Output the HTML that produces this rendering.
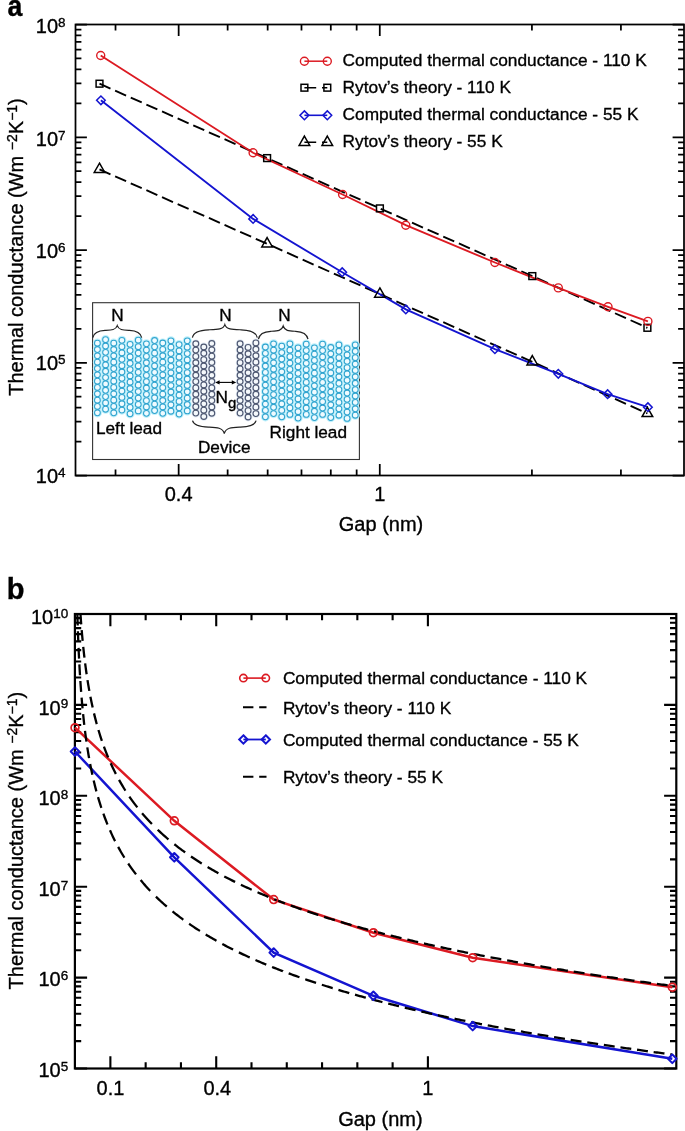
<!DOCTYPE html><html><head><meta charset="utf-8"><style>html,body{margin:0;padding:0;background:#fff;width:685px;height:1131px;overflow:hidden}svg{display:block;font-family:"Liberation Sans",sans-serif;will-change:transform}text{stroke:#000;stroke-width:0.35px}</style></head><body><svg width="685" height="1131" viewBox="0 0 685 1131" font-family="Liberation Sans, sans-serif" fill="#000"><rect x="75.5" y="24.5" width="608.5" height="451" fill="none" stroke="#000" stroke-width="1.75"/>
<path d="M75.5 475.5h11.4M684 475.5h-11.4M75.5 441.56h5.9M684 441.56h-5.9M75.5 421.7h5.9M684 421.7h-5.9M75.5 407.62h5.9M684 407.62h-5.9M75.5 396.69h5.9M684 396.69h-5.9M75.5 387.76h5.9M684 387.76h-5.9M75.5 380.22h5.9M684 380.22h-5.9M75.5 373.68h5.9M684 373.68h-5.9M75.5 367.91h5.9M684 367.91h-5.9M75.5 362.75h11.4M684 362.75h-11.4M75.5 328.81h5.9M684 328.81h-5.9M75.5 308.95h5.9M684 308.95h-5.9M75.5 294.87h5.9M684 294.87h-5.9M75.5 283.94h5.9M684 283.94h-5.9M75.5 275.01h5.9M684 275.01h-5.9M75.5 267.47h5.9M684 267.47h-5.9M75.5 260.93h5.9M684 260.93h-5.9M75.5 255.16h5.9M684 255.16h-5.9M75.5 250h11.4M684 250h-11.4M75.5 216.06h5.9M684 216.06h-5.9M75.5 196.2h5.9M684 196.2h-5.9M75.5 182.12h5.9M684 182.12h-5.9M75.5 171.19h5.9M684 171.19h-5.9M75.5 162.26h5.9M684 162.26h-5.9M75.5 154.72h5.9M684 154.72h-5.9M75.5 148.18h5.9M684 148.18h-5.9M75.5 142.41h5.9M684 142.41h-5.9M75.5 137.25h11.4M684 137.25h-11.4M75.5 103.31h5.9M684 103.31h-5.9M75.5 83.45h5.9M684 83.45h-5.9M75.5 69.37h5.9M684 69.37h-5.9M75.5 58.44h5.9M684 58.44h-5.9M75.5 49.51h5.9M684 49.51h-5.9M75.5 41.97h5.9M684 41.97h-5.9M75.5 35.43h5.9M684 35.43h-5.9M75.5 29.66h5.9M684 29.66h-5.9M75.5 24.5h11.4M684 24.5h-11.4" stroke="#000" stroke-width="1.75" fill="none"/>
<path d="M178.66 24.5v11.4M178.66 475.5v-11.4M379.78 24.5v11.4M379.78 475.5v-11.4M115.52 24.5v5.9M115.52 475.5v-5.9M227.64 24.5v5.9M227.64 475.5v-5.9M267.66 24.5v5.9M267.66 475.5v-5.9M301.49 24.5v5.9M301.49 475.5v-5.9M330.8 24.5v5.9M330.8 475.5v-5.9M356.66 24.5v5.9M356.66 475.5v-5.9M531.92 24.5v5.9M531.92 475.5v-5.9M620.92 24.5v5.9M620.92 475.5v-5.9" stroke="#000" stroke-width="1.75" fill="none"/>
<text x="65.6" y="482.6" font-size="20" text-anchor="end">10<tspan font-size="13.5" dy="-6.1">4</tspan></text>
<text x="65.6" y="370.2" font-size="20" text-anchor="end">10<tspan font-size="13.5" dy="-6.1">5</tspan></text>
<text x="65.6" y="258" font-size="20" text-anchor="end">10<tspan font-size="13.5" dy="-6.1">6</tspan></text>
<text x="65.6" y="145.8" font-size="20" text-anchor="end">10<tspan font-size="13.5" dy="-6.1">7</tspan></text>
<text x="65.6" y="33.2" font-size="20" text-anchor="end">10<tspan font-size="13.5" dy="-6.1">8</tspan></text>
<text x="178.66" y="501" font-size="20" text-anchor="middle">0.4</text>
<text x="379.78" y="501" font-size="20" text-anchor="middle">1</text>
<text x="381" y="530.8" font-size="20" text-anchor="middle">Gap (nm)</text>
<text transform="translate(22.8 247) rotate(-90)" x="0" y="0" font-size="20" text-anchor="middle">Thermal conductance (Wm <tspan font-size="14" dy="-5.8">−2</tspan><tspan dy="5.8">K</tspan><tspan font-size="14" dy="-5.8">−1</tspan><tspan dy="5.8">)</tspan></text>
<text transform="translate(7.4 15.8) scale(0.89 1)" font-size="30" font-weight="bold">a</text>
<rect x="92.6" y="302.7" width="266.8" height="156.8" fill="#fff" stroke="#333" stroke-width="1.1"/>
<g fill="none" stroke="#bff0fb" stroke-width="3.4"><circle cx="97.4" cy="343.2" r="2.9"/><circle cx="97.4" cy="349.53" r="2.9"/><circle cx="97.4" cy="355.85" r="2.9"/><circle cx="97.4" cy="362.18" r="2.9"/><circle cx="97.4" cy="368.51" r="2.9"/><circle cx="97.4" cy="374.84" r="2.9"/><circle cx="97.4" cy="381.16" r="2.9"/><circle cx="97.4" cy="387.49" r="2.9"/><circle cx="97.4" cy="393.82" r="2.9"/><circle cx="97.4" cy="400.15" r="2.9"/><circle cx="97.4" cy="406.47" r="2.9"/><circle cx="97.4" cy="412.8" r="2.9"/><circle cx="105.57" cy="339.7" r="2.9"/><circle cx="105.57" cy="346.02" r="2.9"/><circle cx="105.57" cy="352.34" r="2.9"/><circle cx="105.57" cy="358.65" r="2.9"/><circle cx="105.57" cy="364.97" r="2.9"/><circle cx="105.57" cy="371.29" r="2.9"/><circle cx="105.57" cy="377.61" r="2.9"/><circle cx="105.57" cy="383.93" r="2.9"/><circle cx="105.57" cy="390.25" r="2.9"/><circle cx="105.57" cy="396.56" r="2.9"/><circle cx="105.57" cy="402.88" r="2.9"/><circle cx="105.57" cy="409.2" r="2.9"/><circle cx="113.74" cy="343.2" r="2.9"/><circle cx="113.74" cy="349.53" r="2.9"/><circle cx="113.74" cy="355.85" r="2.9"/><circle cx="113.74" cy="362.18" r="2.9"/><circle cx="113.74" cy="368.51" r="2.9"/><circle cx="113.74" cy="374.84" r="2.9"/><circle cx="113.74" cy="381.16" r="2.9"/><circle cx="113.74" cy="387.49" r="2.9"/><circle cx="113.74" cy="393.82" r="2.9"/><circle cx="113.74" cy="400.15" r="2.9"/><circle cx="113.74" cy="406.47" r="2.9"/><circle cx="113.74" cy="412.8" r="2.9"/><circle cx="121.91" cy="340.3" r="2.9"/><circle cx="121.91" cy="346.65" r="2.9"/><circle cx="121.91" cy="352.99" r="2.9"/><circle cx="121.91" cy="359.34" r="2.9"/><circle cx="121.91" cy="365.68" r="2.9"/><circle cx="121.91" cy="372.03" r="2.9"/><circle cx="121.91" cy="378.37" r="2.9"/><circle cx="121.91" cy="384.72" r="2.9"/><circle cx="121.91" cy="391.06" r="2.9"/><circle cx="121.91" cy="397.41" r="2.9"/><circle cx="121.91" cy="403.75" r="2.9"/><circle cx="121.91" cy="410.1" r="2.9"/><circle cx="130.08" cy="344.3" r="2.9"/><circle cx="130.08" cy="350.62" r="2.9"/><circle cx="130.08" cy="356.94" r="2.9"/><circle cx="130.08" cy="363.25" r="2.9"/><circle cx="130.08" cy="369.57" r="2.9"/><circle cx="130.08" cy="375.89" r="2.9"/><circle cx="130.08" cy="382.21" r="2.9"/><circle cx="130.08" cy="388.53" r="2.9"/><circle cx="130.08" cy="394.85" r="2.9"/><circle cx="130.08" cy="401.16" r="2.9"/><circle cx="130.08" cy="407.48" r="2.9"/><circle cx="130.08" cy="413.8" r="2.9"/><circle cx="138.25" cy="340.2" r="2.9"/><circle cx="138.25" cy="346.63" r="2.9"/><circle cx="138.25" cy="353.05" r="2.9"/><circle cx="138.25" cy="359.48" r="2.9"/><circle cx="138.25" cy="365.91" r="2.9"/><circle cx="138.25" cy="372.34" r="2.9"/><circle cx="138.25" cy="378.76" r="2.9"/><circle cx="138.25" cy="385.19" r="2.9"/><circle cx="138.25" cy="391.62" r="2.9"/><circle cx="138.25" cy="398.05" r="2.9"/><circle cx="138.25" cy="404.47" r="2.9"/><circle cx="138.25" cy="410.9" r="2.9"/><circle cx="146.42" cy="343.8" r="2.9"/><circle cx="146.42" cy="350.12" r="2.9"/><circle cx="146.42" cy="356.44" r="2.9"/><circle cx="146.42" cy="362.75" r="2.9"/><circle cx="146.42" cy="369.07" r="2.9"/><circle cx="146.42" cy="375.39" r="2.9"/><circle cx="146.42" cy="381.71" r="2.9"/><circle cx="146.42" cy="388.03" r="2.9"/><circle cx="146.42" cy="394.35" r="2.9"/><circle cx="146.42" cy="400.66" r="2.9"/><circle cx="146.42" cy="406.98" r="2.9"/><circle cx="146.42" cy="413.3" r="2.9"/><circle cx="154.59" cy="340.5" r="2.9"/><circle cx="154.59" cy="346.86" r="2.9"/><circle cx="154.59" cy="353.23" r="2.9"/><circle cx="154.59" cy="359.59" r="2.9"/><circle cx="154.59" cy="365.95" r="2.9"/><circle cx="154.59" cy="372.32" r="2.9"/><circle cx="154.59" cy="378.68" r="2.9"/><circle cx="154.59" cy="385.05" r="2.9"/><circle cx="154.59" cy="391.41" r="2.9"/><circle cx="154.59" cy="397.77" r="2.9"/><circle cx="154.59" cy="404.14" r="2.9"/><circle cx="154.59" cy="410.5" r="2.9"/><circle cx="162.76" cy="343" r="2.9"/><circle cx="162.76" cy="349.39" r="2.9"/><circle cx="162.76" cy="355.78" r="2.9"/><circle cx="162.76" cy="362.17" r="2.9"/><circle cx="162.76" cy="368.56" r="2.9"/><circle cx="162.76" cy="374.95" r="2.9"/><circle cx="162.76" cy="381.35" r="2.9"/><circle cx="162.76" cy="387.74" r="2.9"/><circle cx="162.76" cy="394.13" r="2.9"/><circle cx="162.76" cy="400.52" r="2.9"/><circle cx="162.76" cy="406.91" r="2.9"/><circle cx="162.76" cy="413.3" r="2.9"/><circle cx="170.93" cy="340.8" r="2.9"/><circle cx="170.93" cy="347.2" r="2.9"/><circle cx="170.93" cy="353.6" r="2.9"/><circle cx="170.93" cy="360" r="2.9"/><circle cx="170.93" cy="366.4" r="2.9"/><circle cx="170.93" cy="372.8" r="2.9"/><circle cx="170.93" cy="379.2" r="2.9"/><circle cx="170.93" cy="385.6" r="2.9"/><circle cx="170.93" cy="392" r="2.9"/><circle cx="170.93" cy="398.4" r="2.9"/><circle cx="170.93" cy="404.8" r="2.9"/><circle cx="170.93" cy="411.2" r="2.9"/><circle cx="179.1" cy="344.6" r="2.9"/><circle cx="179.1" cy="350.92" r="2.9"/><circle cx="179.1" cy="357.24" r="2.9"/><circle cx="179.1" cy="363.55" r="2.9"/><circle cx="179.1" cy="369.87" r="2.9"/><circle cx="179.1" cy="376.19" r="2.9"/><circle cx="179.1" cy="382.51" r="2.9"/><circle cx="179.1" cy="388.83" r="2.9"/><circle cx="179.1" cy="395.15" r="2.9"/><circle cx="179.1" cy="401.46" r="2.9"/><circle cx="179.1" cy="407.78" r="2.9"/><circle cx="179.1" cy="414.1" r="2.9"/><circle cx="187.27" cy="340.8" r="2.9"/><circle cx="187.27" cy="347.17" r="2.9"/><circle cx="187.27" cy="353.55" r="2.9"/><circle cx="187.27" cy="359.92" r="2.9"/><circle cx="187.27" cy="366.29" r="2.9"/><circle cx="187.27" cy="372.66" r="2.9"/><circle cx="187.27" cy="379.04" r="2.9"/><circle cx="187.27" cy="385.41" r="2.9"/><circle cx="187.27" cy="391.78" r="2.9"/><circle cx="187.27" cy="398.15" r="2.9"/><circle cx="187.27" cy="404.53" r="2.9"/><circle cx="187.27" cy="410.9" r="2.9"/><circle cx="265.4" cy="347" r="2.9"/><circle cx="265.4" cy="353.35" r="2.9"/><circle cx="265.4" cy="359.69" r="2.9"/><circle cx="265.4" cy="366.04" r="2.9"/><circle cx="265.4" cy="372.38" r="2.9"/><circle cx="265.4" cy="378.73" r="2.9"/><circle cx="265.4" cy="385.07" r="2.9"/><circle cx="265.4" cy="391.42" r="2.9"/><circle cx="265.4" cy="397.76" r="2.9"/><circle cx="265.4" cy="404.11" r="2.9"/><circle cx="265.4" cy="410.45" r="2.9"/><circle cx="265.4" cy="416.8" r="2.9"/><circle cx="273.57" cy="343.8" r="2.9"/><circle cx="273.57" cy="350.15" r="2.9"/><circle cx="273.57" cy="356.49" r="2.9"/><circle cx="273.57" cy="362.84" r="2.9"/><circle cx="273.57" cy="369.18" r="2.9"/><circle cx="273.57" cy="375.53" r="2.9"/><circle cx="273.57" cy="381.87" r="2.9"/><circle cx="273.57" cy="388.22" r="2.9"/><circle cx="273.57" cy="394.56" r="2.9"/><circle cx="273.57" cy="400.91" r="2.9"/><circle cx="273.57" cy="407.25" r="2.9"/><circle cx="273.57" cy="413.6" r="2.9"/><circle cx="281.74" cy="346.2" r="2.9"/><circle cx="281.74" cy="352.62" r="2.9"/><circle cx="281.74" cy="359.04" r="2.9"/><circle cx="281.74" cy="365.45" r="2.9"/><circle cx="281.74" cy="371.87" r="2.9"/><circle cx="281.74" cy="378.29" r="2.9"/><circle cx="281.74" cy="384.71" r="2.9"/><circle cx="281.74" cy="391.13" r="2.9"/><circle cx="281.74" cy="397.55" r="2.9"/><circle cx="281.74" cy="403.96" r="2.9"/><circle cx="281.74" cy="410.38" r="2.9"/><circle cx="281.74" cy="416.8" r="2.9"/><circle cx="289.91" cy="343.8" r="2.9"/><circle cx="289.91" cy="350.22" r="2.9"/><circle cx="289.91" cy="356.64" r="2.9"/><circle cx="289.91" cy="363.05" r="2.9"/><circle cx="289.91" cy="369.47" r="2.9"/><circle cx="289.91" cy="375.89" r="2.9"/><circle cx="289.91" cy="382.31" r="2.9"/><circle cx="289.91" cy="388.73" r="2.9"/><circle cx="289.91" cy="395.15" r="2.9"/><circle cx="289.91" cy="401.56" r="2.9"/><circle cx="289.91" cy="407.98" r="2.9"/><circle cx="289.91" cy="414.4" r="2.9"/><circle cx="298.08" cy="347.8" r="2.9"/><circle cx="298.08" cy="354.19" r="2.9"/><circle cx="298.08" cy="360.58" r="2.9"/><circle cx="298.08" cy="366.97" r="2.9"/><circle cx="298.08" cy="373.36" r="2.9"/><circle cx="298.08" cy="379.75" r="2.9"/><circle cx="298.08" cy="386.15" r="2.9"/><circle cx="298.08" cy="392.54" r="2.9"/><circle cx="298.08" cy="398.93" r="2.9"/><circle cx="298.08" cy="405.32" r="2.9"/><circle cx="298.08" cy="411.71" r="2.9"/><circle cx="298.08" cy="418.1" r="2.9"/><circle cx="306.25" cy="344.2" r="2.9"/><circle cx="306.25" cy="350.58" r="2.9"/><circle cx="306.25" cy="356.96" r="2.9"/><circle cx="306.25" cy="363.35" r="2.9"/><circle cx="306.25" cy="369.73" r="2.9"/><circle cx="306.25" cy="376.11" r="2.9"/><circle cx="306.25" cy="382.49" r="2.9"/><circle cx="306.25" cy="388.87" r="2.9"/><circle cx="306.25" cy="395.25" r="2.9"/><circle cx="306.25" cy="401.64" r="2.9"/><circle cx="306.25" cy="408.02" r="2.9"/><circle cx="306.25" cy="414.4" r="2.9"/><circle cx="314.42" cy="347.8" r="2.9"/><circle cx="314.42" cy="354.15" r="2.9"/><circle cx="314.42" cy="360.49" r="2.9"/><circle cx="314.42" cy="366.84" r="2.9"/><circle cx="314.42" cy="373.18" r="2.9"/><circle cx="314.42" cy="379.53" r="2.9"/><circle cx="314.42" cy="385.87" r="2.9"/><circle cx="314.42" cy="392.22" r="2.9"/><circle cx="314.42" cy="398.56" r="2.9"/><circle cx="314.42" cy="404.91" r="2.9"/><circle cx="314.42" cy="411.25" r="2.9"/><circle cx="314.42" cy="417.6" r="2.9"/><circle cx="322.59" cy="344.2" r="2.9"/><circle cx="322.59" cy="350.58" r="2.9"/><circle cx="322.59" cy="356.96" r="2.9"/><circle cx="322.59" cy="363.35" r="2.9"/><circle cx="322.59" cy="369.73" r="2.9"/><circle cx="322.59" cy="376.11" r="2.9"/><circle cx="322.59" cy="382.49" r="2.9"/><circle cx="322.59" cy="388.87" r="2.9"/><circle cx="322.59" cy="395.25" r="2.9"/><circle cx="322.59" cy="401.64" r="2.9"/><circle cx="322.59" cy="408.02" r="2.9"/><circle cx="322.59" cy="414.4" r="2.9"/><circle cx="330.76" cy="347.5" r="2.9"/><circle cx="330.76" cy="353.87" r="2.9"/><circle cx="330.76" cy="360.25" r="2.9"/><circle cx="330.76" cy="366.62" r="2.9"/><circle cx="330.76" cy="372.99" r="2.9"/><circle cx="330.76" cy="379.36" r="2.9"/><circle cx="330.76" cy="385.74" r="2.9"/><circle cx="330.76" cy="392.11" r="2.9"/><circle cx="330.76" cy="398.48" r="2.9"/><circle cx="330.76" cy="404.85" r="2.9"/><circle cx="330.76" cy="411.23" r="2.9"/><circle cx="330.76" cy="417.6" r="2.9"/><circle cx="338.93" cy="344.9" r="2.9"/><circle cx="338.93" cy="351.29" r="2.9"/><circle cx="338.93" cy="357.68" r="2.9"/><circle cx="338.93" cy="364.07" r="2.9"/><circle cx="338.93" cy="370.46" r="2.9"/><circle cx="338.93" cy="376.85" r="2.9"/><circle cx="338.93" cy="383.25" r="2.9"/><circle cx="338.93" cy="389.64" r="2.9"/><circle cx="338.93" cy="396.03" r="2.9"/><circle cx="338.93" cy="402.42" r="2.9"/><circle cx="338.93" cy="408.81" r="2.9"/><circle cx="338.93" cy="415.2" r="2.9"/><circle cx="347.1" cy="348.6" r="2.9"/><circle cx="347.1" cy="354.95" r="2.9"/><circle cx="347.1" cy="361.29" r="2.9"/><circle cx="347.1" cy="367.64" r="2.9"/><circle cx="347.1" cy="373.98" r="2.9"/><circle cx="347.1" cy="380.33" r="2.9"/><circle cx="347.1" cy="386.67" r="2.9"/><circle cx="347.1" cy="393.02" r="2.9"/><circle cx="347.1" cy="399.36" r="2.9"/><circle cx="347.1" cy="405.71" r="2.9"/><circle cx="347.1" cy="412.05" r="2.9"/><circle cx="347.1" cy="418.4" r="2.9"/><circle cx="355.27" cy="344.9" r="2.9"/><circle cx="355.27" cy="351.29" r="2.9"/><circle cx="355.27" cy="357.68" r="2.9"/><circle cx="355.27" cy="364.07" r="2.9"/><circle cx="355.27" cy="370.46" r="2.9"/><circle cx="355.27" cy="376.85" r="2.9"/><circle cx="355.27" cy="383.25" r="2.9"/><circle cx="355.27" cy="389.64" r="2.9"/><circle cx="355.27" cy="396.03" r="2.9"/><circle cx="355.27" cy="402.42" r="2.9"/><circle cx="355.27" cy="408.81" r="2.9"/><circle cx="355.27" cy="415.2" r="2.9"/></g>
<g fill="none" stroke="#e4ecf6" stroke-width="3.0"><circle cx="195.8" cy="343.8" r="2.9"/><circle cx="195.8" cy="350.1" r="2.9"/><circle cx="195.8" cy="356.4" r="2.9"/><circle cx="195.8" cy="362.7" r="2.9"/><circle cx="195.8" cy="369" r="2.9"/><circle cx="195.8" cy="375.3" r="2.9"/><circle cx="195.8" cy="381.6" r="2.9"/><circle cx="195.8" cy="387.9" r="2.9"/><circle cx="195.8" cy="394.2" r="2.9"/><circle cx="195.8" cy="400.5" r="2.9"/><circle cx="195.8" cy="406.8" r="2.9"/><circle cx="195.8" cy="413.1" r="2.9"/><circle cx="203.8" cy="347" r="2.9"/><circle cx="203.8" cy="353.32" r="2.9"/><circle cx="203.8" cy="359.64" r="2.9"/><circle cx="203.8" cy="365.95" r="2.9"/><circle cx="203.8" cy="372.27" r="2.9"/><circle cx="203.8" cy="378.59" r="2.9"/><circle cx="203.8" cy="384.91" r="2.9"/><circle cx="203.8" cy="391.23" r="2.9"/><circle cx="203.8" cy="397.55" r="2.9"/><circle cx="203.8" cy="403.86" r="2.9"/><circle cx="203.8" cy="410.18" r="2.9"/><circle cx="203.8" cy="416.5" r="2.9"/><circle cx="211.8" cy="343.5" r="2.9"/><circle cx="211.8" cy="349.85" r="2.9"/><circle cx="211.8" cy="356.19" r="2.9"/><circle cx="211.8" cy="362.54" r="2.9"/><circle cx="211.8" cy="368.88" r="2.9"/><circle cx="211.8" cy="375.23" r="2.9"/><circle cx="211.8" cy="381.57" r="2.9"/><circle cx="211.8" cy="387.92" r="2.9"/><circle cx="211.8" cy="394.26" r="2.9"/><circle cx="211.8" cy="400.61" r="2.9"/><circle cx="211.8" cy="406.95" r="2.9"/><circle cx="211.8" cy="413.3" r="2.9"/><circle cx="240.1" cy="343.7" r="2.9"/><circle cx="240.1" cy="350.01" r="2.9"/><circle cx="240.1" cy="356.32" r="2.9"/><circle cx="240.1" cy="362.63" r="2.9"/><circle cx="240.1" cy="368.94" r="2.9"/><circle cx="240.1" cy="375.25" r="2.9"/><circle cx="240.1" cy="381.55" r="2.9"/><circle cx="240.1" cy="387.86" r="2.9"/><circle cx="240.1" cy="394.17" r="2.9"/><circle cx="240.1" cy="400.48" r="2.9"/><circle cx="240.1" cy="406.79" r="2.9"/><circle cx="240.1" cy="413.1" r="2.9"/><circle cx="248.1" cy="347.4" r="2.9"/><circle cx="248.1" cy="353.73" r="2.9"/><circle cx="248.1" cy="360.05" r="2.9"/><circle cx="248.1" cy="366.38" r="2.9"/><circle cx="248.1" cy="372.71" r="2.9"/><circle cx="248.1" cy="379.04" r="2.9"/><circle cx="248.1" cy="385.36" r="2.9"/><circle cx="248.1" cy="391.69" r="2.9"/><circle cx="248.1" cy="398.02" r="2.9"/><circle cx="248.1" cy="404.35" r="2.9"/><circle cx="248.1" cy="410.67" r="2.9"/><circle cx="248.1" cy="417" r="2.9"/><circle cx="255.9" cy="342.9" r="2.9"/><circle cx="255.9" cy="349.33" r="2.9"/><circle cx="255.9" cy="355.75" r="2.9"/><circle cx="255.9" cy="362.18" r="2.9"/><circle cx="255.9" cy="368.61" r="2.9"/><circle cx="255.9" cy="375.04" r="2.9"/><circle cx="255.9" cy="381.46" r="2.9"/><circle cx="255.9" cy="387.89" r="2.9"/><circle cx="255.9" cy="394.32" r="2.9"/><circle cx="255.9" cy="400.75" r="2.9"/><circle cx="255.9" cy="407.17" r="2.9"/><circle cx="255.9" cy="413.6" r="2.9"/></g>
<g fill="#f0fbff" stroke="#30a4cf" stroke-width="1.05"><circle cx="97.4" cy="343.2" r="2.9"/><circle cx="97.4" cy="349.53" r="2.9"/><circle cx="97.4" cy="355.85" r="2.9"/><circle cx="97.4" cy="362.18" r="2.9"/><circle cx="97.4" cy="368.51" r="2.9"/><circle cx="97.4" cy="374.84" r="2.9"/><circle cx="97.4" cy="381.16" r="2.9"/><circle cx="97.4" cy="387.49" r="2.9"/><circle cx="97.4" cy="393.82" r="2.9"/><circle cx="97.4" cy="400.15" r="2.9"/><circle cx="97.4" cy="406.47" r="2.9"/><circle cx="97.4" cy="412.8" r="2.9"/><circle cx="105.57" cy="339.7" r="2.9"/><circle cx="105.57" cy="346.02" r="2.9"/><circle cx="105.57" cy="352.34" r="2.9"/><circle cx="105.57" cy="358.65" r="2.9"/><circle cx="105.57" cy="364.97" r="2.9"/><circle cx="105.57" cy="371.29" r="2.9"/><circle cx="105.57" cy="377.61" r="2.9"/><circle cx="105.57" cy="383.93" r="2.9"/><circle cx="105.57" cy="390.25" r="2.9"/><circle cx="105.57" cy="396.56" r="2.9"/><circle cx="105.57" cy="402.88" r="2.9"/><circle cx="105.57" cy="409.2" r="2.9"/><circle cx="113.74" cy="343.2" r="2.9"/><circle cx="113.74" cy="349.53" r="2.9"/><circle cx="113.74" cy="355.85" r="2.9"/><circle cx="113.74" cy="362.18" r="2.9"/><circle cx="113.74" cy="368.51" r="2.9"/><circle cx="113.74" cy="374.84" r="2.9"/><circle cx="113.74" cy="381.16" r="2.9"/><circle cx="113.74" cy="387.49" r="2.9"/><circle cx="113.74" cy="393.82" r="2.9"/><circle cx="113.74" cy="400.15" r="2.9"/><circle cx="113.74" cy="406.47" r="2.9"/><circle cx="113.74" cy="412.8" r="2.9"/><circle cx="121.91" cy="340.3" r="2.9"/><circle cx="121.91" cy="346.65" r="2.9"/><circle cx="121.91" cy="352.99" r="2.9"/><circle cx="121.91" cy="359.34" r="2.9"/><circle cx="121.91" cy="365.68" r="2.9"/><circle cx="121.91" cy="372.03" r="2.9"/><circle cx="121.91" cy="378.37" r="2.9"/><circle cx="121.91" cy="384.72" r="2.9"/><circle cx="121.91" cy="391.06" r="2.9"/><circle cx="121.91" cy="397.41" r="2.9"/><circle cx="121.91" cy="403.75" r="2.9"/><circle cx="121.91" cy="410.1" r="2.9"/><circle cx="130.08" cy="344.3" r="2.9"/><circle cx="130.08" cy="350.62" r="2.9"/><circle cx="130.08" cy="356.94" r="2.9"/><circle cx="130.08" cy="363.25" r="2.9"/><circle cx="130.08" cy="369.57" r="2.9"/><circle cx="130.08" cy="375.89" r="2.9"/><circle cx="130.08" cy="382.21" r="2.9"/><circle cx="130.08" cy="388.53" r="2.9"/><circle cx="130.08" cy="394.85" r="2.9"/><circle cx="130.08" cy="401.16" r="2.9"/><circle cx="130.08" cy="407.48" r="2.9"/><circle cx="130.08" cy="413.8" r="2.9"/><circle cx="138.25" cy="340.2" r="2.9"/><circle cx="138.25" cy="346.63" r="2.9"/><circle cx="138.25" cy="353.05" r="2.9"/><circle cx="138.25" cy="359.48" r="2.9"/><circle cx="138.25" cy="365.91" r="2.9"/><circle cx="138.25" cy="372.34" r="2.9"/><circle cx="138.25" cy="378.76" r="2.9"/><circle cx="138.25" cy="385.19" r="2.9"/><circle cx="138.25" cy="391.62" r="2.9"/><circle cx="138.25" cy="398.05" r="2.9"/><circle cx="138.25" cy="404.47" r="2.9"/><circle cx="138.25" cy="410.9" r="2.9"/><circle cx="146.42" cy="343.8" r="2.9"/><circle cx="146.42" cy="350.12" r="2.9"/><circle cx="146.42" cy="356.44" r="2.9"/><circle cx="146.42" cy="362.75" r="2.9"/><circle cx="146.42" cy="369.07" r="2.9"/><circle cx="146.42" cy="375.39" r="2.9"/><circle cx="146.42" cy="381.71" r="2.9"/><circle cx="146.42" cy="388.03" r="2.9"/><circle cx="146.42" cy="394.35" r="2.9"/><circle cx="146.42" cy="400.66" r="2.9"/><circle cx="146.42" cy="406.98" r="2.9"/><circle cx="146.42" cy="413.3" r="2.9"/><circle cx="154.59" cy="340.5" r="2.9"/><circle cx="154.59" cy="346.86" r="2.9"/><circle cx="154.59" cy="353.23" r="2.9"/><circle cx="154.59" cy="359.59" r="2.9"/><circle cx="154.59" cy="365.95" r="2.9"/><circle cx="154.59" cy="372.32" r="2.9"/><circle cx="154.59" cy="378.68" r="2.9"/><circle cx="154.59" cy="385.05" r="2.9"/><circle cx="154.59" cy="391.41" r="2.9"/><circle cx="154.59" cy="397.77" r="2.9"/><circle cx="154.59" cy="404.14" r="2.9"/><circle cx="154.59" cy="410.5" r="2.9"/><circle cx="162.76" cy="343" r="2.9"/><circle cx="162.76" cy="349.39" r="2.9"/><circle cx="162.76" cy="355.78" r="2.9"/><circle cx="162.76" cy="362.17" r="2.9"/><circle cx="162.76" cy="368.56" r="2.9"/><circle cx="162.76" cy="374.95" r="2.9"/><circle cx="162.76" cy="381.35" r="2.9"/><circle cx="162.76" cy="387.74" r="2.9"/><circle cx="162.76" cy="394.13" r="2.9"/><circle cx="162.76" cy="400.52" r="2.9"/><circle cx="162.76" cy="406.91" r="2.9"/><circle cx="162.76" cy="413.3" r="2.9"/><circle cx="170.93" cy="340.8" r="2.9"/><circle cx="170.93" cy="347.2" r="2.9"/><circle cx="170.93" cy="353.6" r="2.9"/><circle cx="170.93" cy="360" r="2.9"/><circle cx="170.93" cy="366.4" r="2.9"/><circle cx="170.93" cy="372.8" r="2.9"/><circle cx="170.93" cy="379.2" r="2.9"/><circle cx="170.93" cy="385.6" r="2.9"/><circle cx="170.93" cy="392" r="2.9"/><circle cx="170.93" cy="398.4" r="2.9"/><circle cx="170.93" cy="404.8" r="2.9"/><circle cx="170.93" cy="411.2" r="2.9"/><circle cx="179.1" cy="344.6" r="2.9"/><circle cx="179.1" cy="350.92" r="2.9"/><circle cx="179.1" cy="357.24" r="2.9"/><circle cx="179.1" cy="363.55" r="2.9"/><circle cx="179.1" cy="369.87" r="2.9"/><circle cx="179.1" cy="376.19" r="2.9"/><circle cx="179.1" cy="382.51" r="2.9"/><circle cx="179.1" cy="388.83" r="2.9"/><circle cx="179.1" cy="395.15" r="2.9"/><circle cx="179.1" cy="401.46" r="2.9"/><circle cx="179.1" cy="407.78" r="2.9"/><circle cx="179.1" cy="414.1" r="2.9"/><circle cx="187.27" cy="340.8" r="2.9"/><circle cx="187.27" cy="347.17" r="2.9"/><circle cx="187.27" cy="353.55" r="2.9"/><circle cx="187.27" cy="359.92" r="2.9"/><circle cx="187.27" cy="366.29" r="2.9"/><circle cx="187.27" cy="372.66" r="2.9"/><circle cx="187.27" cy="379.04" r="2.9"/><circle cx="187.27" cy="385.41" r="2.9"/><circle cx="187.27" cy="391.78" r="2.9"/><circle cx="187.27" cy="398.15" r="2.9"/><circle cx="187.27" cy="404.53" r="2.9"/><circle cx="187.27" cy="410.9" r="2.9"/><circle cx="265.4" cy="347" r="2.9"/><circle cx="265.4" cy="353.35" r="2.9"/><circle cx="265.4" cy="359.69" r="2.9"/><circle cx="265.4" cy="366.04" r="2.9"/><circle cx="265.4" cy="372.38" r="2.9"/><circle cx="265.4" cy="378.73" r="2.9"/><circle cx="265.4" cy="385.07" r="2.9"/><circle cx="265.4" cy="391.42" r="2.9"/><circle cx="265.4" cy="397.76" r="2.9"/><circle cx="265.4" cy="404.11" r="2.9"/><circle cx="265.4" cy="410.45" r="2.9"/><circle cx="265.4" cy="416.8" r="2.9"/><circle cx="273.57" cy="343.8" r="2.9"/><circle cx="273.57" cy="350.15" r="2.9"/><circle cx="273.57" cy="356.49" r="2.9"/><circle cx="273.57" cy="362.84" r="2.9"/><circle cx="273.57" cy="369.18" r="2.9"/><circle cx="273.57" cy="375.53" r="2.9"/><circle cx="273.57" cy="381.87" r="2.9"/><circle cx="273.57" cy="388.22" r="2.9"/><circle cx="273.57" cy="394.56" r="2.9"/><circle cx="273.57" cy="400.91" r="2.9"/><circle cx="273.57" cy="407.25" r="2.9"/><circle cx="273.57" cy="413.6" r="2.9"/><circle cx="281.74" cy="346.2" r="2.9"/><circle cx="281.74" cy="352.62" r="2.9"/><circle cx="281.74" cy="359.04" r="2.9"/><circle cx="281.74" cy="365.45" r="2.9"/><circle cx="281.74" cy="371.87" r="2.9"/><circle cx="281.74" cy="378.29" r="2.9"/><circle cx="281.74" cy="384.71" r="2.9"/><circle cx="281.74" cy="391.13" r="2.9"/><circle cx="281.74" cy="397.55" r="2.9"/><circle cx="281.74" cy="403.96" r="2.9"/><circle cx="281.74" cy="410.38" r="2.9"/><circle cx="281.74" cy="416.8" r="2.9"/><circle cx="289.91" cy="343.8" r="2.9"/><circle cx="289.91" cy="350.22" r="2.9"/><circle cx="289.91" cy="356.64" r="2.9"/><circle cx="289.91" cy="363.05" r="2.9"/><circle cx="289.91" cy="369.47" r="2.9"/><circle cx="289.91" cy="375.89" r="2.9"/><circle cx="289.91" cy="382.31" r="2.9"/><circle cx="289.91" cy="388.73" r="2.9"/><circle cx="289.91" cy="395.15" r="2.9"/><circle cx="289.91" cy="401.56" r="2.9"/><circle cx="289.91" cy="407.98" r="2.9"/><circle cx="289.91" cy="414.4" r="2.9"/><circle cx="298.08" cy="347.8" r="2.9"/><circle cx="298.08" cy="354.19" r="2.9"/><circle cx="298.08" cy="360.58" r="2.9"/><circle cx="298.08" cy="366.97" r="2.9"/><circle cx="298.08" cy="373.36" r="2.9"/><circle cx="298.08" cy="379.75" r="2.9"/><circle cx="298.08" cy="386.15" r="2.9"/><circle cx="298.08" cy="392.54" r="2.9"/><circle cx="298.08" cy="398.93" r="2.9"/><circle cx="298.08" cy="405.32" r="2.9"/><circle cx="298.08" cy="411.71" r="2.9"/><circle cx="298.08" cy="418.1" r="2.9"/><circle cx="306.25" cy="344.2" r="2.9"/><circle cx="306.25" cy="350.58" r="2.9"/><circle cx="306.25" cy="356.96" r="2.9"/><circle cx="306.25" cy="363.35" r="2.9"/><circle cx="306.25" cy="369.73" r="2.9"/><circle cx="306.25" cy="376.11" r="2.9"/><circle cx="306.25" cy="382.49" r="2.9"/><circle cx="306.25" cy="388.87" r="2.9"/><circle cx="306.25" cy="395.25" r="2.9"/><circle cx="306.25" cy="401.64" r="2.9"/><circle cx="306.25" cy="408.02" r="2.9"/><circle cx="306.25" cy="414.4" r="2.9"/><circle cx="314.42" cy="347.8" r="2.9"/><circle cx="314.42" cy="354.15" r="2.9"/><circle cx="314.42" cy="360.49" r="2.9"/><circle cx="314.42" cy="366.84" r="2.9"/><circle cx="314.42" cy="373.18" r="2.9"/><circle cx="314.42" cy="379.53" r="2.9"/><circle cx="314.42" cy="385.87" r="2.9"/><circle cx="314.42" cy="392.22" r="2.9"/><circle cx="314.42" cy="398.56" r="2.9"/><circle cx="314.42" cy="404.91" r="2.9"/><circle cx="314.42" cy="411.25" r="2.9"/><circle cx="314.42" cy="417.6" r="2.9"/><circle cx="322.59" cy="344.2" r="2.9"/><circle cx="322.59" cy="350.58" r="2.9"/><circle cx="322.59" cy="356.96" r="2.9"/><circle cx="322.59" cy="363.35" r="2.9"/><circle cx="322.59" cy="369.73" r="2.9"/><circle cx="322.59" cy="376.11" r="2.9"/><circle cx="322.59" cy="382.49" r="2.9"/><circle cx="322.59" cy="388.87" r="2.9"/><circle cx="322.59" cy="395.25" r="2.9"/><circle cx="322.59" cy="401.64" r="2.9"/><circle cx="322.59" cy="408.02" r="2.9"/><circle cx="322.59" cy="414.4" r="2.9"/><circle cx="330.76" cy="347.5" r="2.9"/><circle cx="330.76" cy="353.87" r="2.9"/><circle cx="330.76" cy="360.25" r="2.9"/><circle cx="330.76" cy="366.62" r="2.9"/><circle cx="330.76" cy="372.99" r="2.9"/><circle cx="330.76" cy="379.36" r="2.9"/><circle cx="330.76" cy="385.74" r="2.9"/><circle cx="330.76" cy="392.11" r="2.9"/><circle cx="330.76" cy="398.48" r="2.9"/><circle cx="330.76" cy="404.85" r="2.9"/><circle cx="330.76" cy="411.23" r="2.9"/><circle cx="330.76" cy="417.6" r="2.9"/><circle cx="338.93" cy="344.9" r="2.9"/><circle cx="338.93" cy="351.29" r="2.9"/><circle cx="338.93" cy="357.68" r="2.9"/><circle cx="338.93" cy="364.07" r="2.9"/><circle cx="338.93" cy="370.46" r="2.9"/><circle cx="338.93" cy="376.85" r="2.9"/><circle cx="338.93" cy="383.25" r="2.9"/><circle cx="338.93" cy="389.64" r="2.9"/><circle cx="338.93" cy="396.03" r="2.9"/><circle cx="338.93" cy="402.42" r="2.9"/><circle cx="338.93" cy="408.81" r="2.9"/><circle cx="338.93" cy="415.2" r="2.9"/><circle cx="347.1" cy="348.6" r="2.9"/><circle cx="347.1" cy="354.95" r="2.9"/><circle cx="347.1" cy="361.29" r="2.9"/><circle cx="347.1" cy="367.64" r="2.9"/><circle cx="347.1" cy="373.98" r="2.9"/><circle cx="347.1" cy="380.33" r="2.9"/><circle cx="347.1" cy="386.67" r="2.9"/><circle cx="347.1" cy="393.02" r="2.9"/><circle cx="347.1" cy="399.36" r="2.9"/><circle cx="347.1" cy="405.71" r="2.9"/><circle cx="347.1" cy="412.05" r="2.9"/><circle cx="347.1" cy="418.4" r="2.9"/><circle cx="355.27" cy="344.9" r="2.9"/><circle cx="355.27" cy="351.29" r="2.9"/><circle cx="355.27" cy="357.68" r="2.9"/><circle cx="355.27" cy="364.07" r="2.9"/><circle cx="355.27" cy="370.46" r="2.9"/><circle cx="355.27" cy="376.85" r="2.9"/><circle cx="355.27" cy="383.25" r="2.9"/><circle cx="355.27" cy="389.64" r="2.9"/><circle cx="355.27" cy="396.03" r="2.9"/><circle cx="355.27" cy="402.42" r="2.9"/><circle cx="355.27" cy="408.81" r="2.9"/><circle cx="355.27" cy="415.2" r="2.9"/></g>
<g fill="#f5f9fc" stroke="#4e5872" stroke-width="1.15"><circle cx="195.8" cy="343.8" r="2.9"/><circle cx="195.8" cy="350.1" r="2.9"/><circle cx="195.8" cy="356.4" r="2.9"/><circle cx="195.8" cy="362.7" r="2.9"/><circle cx="195.8" cy="369" r="2.9"/><circle cx="195.8" cy="375.3" r="2.9"/><circle cx="195.8" cy="381.6" r="2.9"/><circle cx="195.8" cy="387.9" r="2.9"/><circle cx="195.8" cy="394.2" r="2.9"/><circle cx="195.8" cy="400.5" r="2.9"/><circle cx="195.8" cy="406.8" r="2.9"/><circle cx="195.8" cy="413.1" r="2.9"/><circle cx="203.8" cy="347" r="2.9"/><circle cx="203.8" cy="353.32" r="2.9"/><circle cx="203.8" cy="359.64" r="2.9"/><circle cx="203.8" cy="365.95" r="2.9"/><circle cx="203.8" cy="372.27" r="2.9"/><circle cx="203.8" cy="378.59" r="2.9"/><circle cx="203.8" cy="384.91" r="2.9"/><circle cx="203.8" cy="391.23" r="2.9"/><circle cx="203.8" cy="397.55" r="2.9"/><circle cx="203.8" cy="403.86" r="2.9"/><circle cx="203.8" cy="410.18" r="2.9"/><circle cx="203.8" cy="416.5" r="2.9"/><circle cx="211.8" cy="343.5" r="2.9"/><circle cx="211.8" cy="349.85" r="2.9"/><circle cx="211.8" cy="356.19" r="2.9"/><circle cx="211.8" cy="362.54" r="2.9"/><circle cx="211.8" cy="368.88" r="2.9"/><circle cx="211.8" cy="375.23" r="2.9"/><circle cx="211.8" cy="381.57" r="2.9"/><circle cx="211.8" cy="387.92" r="2.9"/><circle cx="211.8" cy="394.26" r="2.9"/><circle cx="211.8" cy="400.61" r="2.9"/><circle cx="211.8" cy="406.95" r="2.9"/><circle cx="211.8" cy="413.3" r="2.9"/><circle cx="240.1" cy="343.7" r="2.9"/><circle cx="240.1" cy="350.01" r="2.9"/><circle cx="240.1" cy="356.32" r="2.9"/><circle cx="240.1" cy="362.63" r="2.9"/><circle cx="240.1" cy="368.94" r="2.9"/><circle cx="240.1" cy="375.25" r="2.9"/><circle cx="240.1" cy="381.55" r="2.9"/><circle cx="240.1" cy="387.86" r="2.9"/><circle cx="240.1" cy="394.17" r="2.9"/><circle cx="240.1" cy="400.48" r="2.9"/><circle cx="240.1" cy="406.79" r="2.9"/><circle cx="240.1" cy="413.1" r="2.9"/><circle cx="248.1" cy="347.4" r="2.9"/><circle cx="248.1" cy="353.73" r="2.9"/><circle cx="248.1" cy="360.05" r="2.9"/><circle cx="248.1" cy="366.38" r="2.9"/><circle cx="248.1" cy="372.71" r="2.9"/><circle cx="248.1" cy="379.04" r="2.9"/><circle cx="248.1" cy="385.36" r="2.9"/><circle cx="248.1" cy="391.69" r="2.9"/><circle cx="248.1" cy="398.02" r="2.9"/><circle cx="248.1" cy="404.35" r="2.9"/><circle cx="248.1" cy="410.67" r="2.9"/><circle cx="248.1" cy="417" r="2.9"/><circle cx="255.9" cy="342.9" r="2.9"/><circle cx="255.9" cy="349.33" r="2.9"/><circle cx="255.9" cy="355.75" r="2.9"/><circle cx="255.9" cy="362.18" r="2.9"/><circle cx="255.9" cy="368.61" r="2.9"/><circle cx="255.9" cy="375.04" r="2.9"/><circle cx="255.9" cy="381.46" r="2.9"/><circle cx="255.9" cy="387.89" r="2.9"/><circle cx="255.9" cy="394.32" r="2.9"/><circle cx="255.9" cy="400.75" r="2.9"/><circle cx="255.9" cy="407.17" r="2.9"/><circle cx="255.9" cy="413.6" r="2.9"/></g>
<path d="M92.8 337.6C93.8 332.9 98.67 330.7 105.02 330.4C111.38 330.1 115.75 330.1 117.25 325.6C118.75 330.1 123.12 330.1 129.47 330.4C135.83 330.7 140.7 332.9 141.7 337.6" fill="none" stroke="#222" stroke-width="1.2"/>
<path d="M192.4 337.6C193.4 332.3 200.19 330.1 208.62 329.8C217.06 329.5 223.35 329.5 224.85 324.6C226.35 329.5 232.64 329.5 241.08 329.8C249.51 330.1 256.3 332.3 257.3 337.6" fill="none" stroke="#222" stroke-width="1.2"/>
<path d="M258.4 339.2C259.4 333.78 264.35 331.58 270.8 331.28C277.25 330.98 281.7 330.98 283.2 326C284.7 330.98 289.15 330.98 295.6 331.28C302.05 331.58 307 333.78 308 339.2" fill="none" stroke="#222" stroke-width="1.2"/>
<path d="M192.5 420.7C193.5 424.65 200.13 426.85 208.4 427.15C216.67 427.45 222.8 427.45 224.3 433.6C225.8 427.45 231.93 427.45 240.2 427.15C248.47 426.85 255.1 424.65 256.1 420.7" fill="none" stroke="#222" stroke-width="1.2"/>
<text x="117.5" y="321.4" font-size="17.2" text-anchor="middle">N</text>
<text x="225.5" y="320.6" font-size="17.2" text-anchor="middle">N</text>
<text x="284.5" y="320.6" font-size="17.2" text-anchor="middle">N</text>
<text x="96" y="433.6" font-size="17.2">Left lead</text>
<text x="269.6" y="437.8" font-size="17.2">Right lead</text>
<text x="224.2" y="453" font-size="17.2" text-anchor="middle">Device</text>
<text x="215.6" y="402.7" font-size="17.2">N<tspan font-size="15" dy="5.6">g</tspan></text>
<path d="M219 382.4H232" stroke="#000" stroke-width="1.1"/>
<path d="M215.2 382.4L219.6 380.2V384.6Z M236.2 382.4L231.8 380.2V384.6Z" fill="#000"/>
<path d="M99.5 83.7L267.1 158.1L379.9 208.4L532.3 276.1L647.4 327.8" fill="none" stroke="#000" stroke-width="1.9" stroke-dasharray="12 5.1"/>
<path d="M99.5 169.4L267.1 243.8L379.9 294.1L532.3 361.8L647.4 413.5" fill="none" stroke="#000" stroke-width="1.9" stroke-dasharray="12 5.1"/>
<path d="M100.7 55.5L253.1 152.8L342.6 194.5L405.8 225.2L494.9 262.5L558.3 287.9L608 306.8L647.9 321.4" fill="none" stroke="#dc1a22" stroke-width="1.85"/>
<path d="M100.9 100.3L253.1 218.9L342.2 272.2L405.8 309.4L494.9 349.2L558.3 373.8L607.6 394.2L647.9 407.2" fill="none" stroke="#1414d0" stroke-width="1.85"/>
<rect x="96.1" y="80.3" width="6.8" height="6.8" fill="none" stroke="#000" stroke-width="1.5"/>
<rect x="263.7" y="154.7" width="6.8" height="6.8" fill="none" stroke="#000" stroke-width="1.5"/>
<rect x="376.5" y="205" width="6.8" height="6.8" fill="none" stroke="#000" stroke-width="1.5"/>
<rect x="528.9" y="272.7" width="6.8" height="6.8" fill="none" stroke="#000" stroke-width="1.5"/>
<rect x="644" y="324.4" width="6.8" height="6.8" fill="none" stroke="#000" stroke-width="1.5"/>
<path d="M99.5 163.2L104.8 172.5L94.2 172.5Z" fill="none" stroke="#000" stroke-width="1.5" stroke-linejoin="miter"/>
<path d="M267.1 237.6L272.4 246.9L261.8 246.9Z" fill="none" stroke="#000" stroke-width="1.5" stroke-linejoin="miter"/>
<path d="M379.9 287.9L385.2 297.2L374.6 297.2Z" fill="none" stroke="#000" stroke-width="1.5" stroke-linejoin="miter"/>
<path d="M532.3 355.6L537.6 364.9L527 364.9Z" fill="none" stroke="#000" stroke-width="1.5" stroke-linejoin="miter"/>
<path d="M647.4 407.3L652.7 416.6L642.1 416.6Z" fill="none" stroke="#000" stroke-width="1.5" stroke-linejoin="miter"/>
<circle cx="100.7" cy="55.5" r="4" fill="none" stroke="#dc1a22" stroke-width="1.4"/>
<circle cx="253.1" cy="152.8" r="4" fill="none" stroke="#dc1a22" stroke-width="1.4"/>
<circle cx="342.6" cy="194.5" r="4" fill="none" stroke="#dc1a22" stroke-width="1.4"/>
<circle cx="405.8" cy="225.2" r="4" fill="none" stroke="#dc1a22" stroke-width="1.4"/>
<circle cx="494.9" cy="262.5" r="4" fill="none" stroke="#dc1a22" stroke-width="1.4"/>
<circle cx="558.3" cy="287.9" r="4" fill="none" stroke="#dc1a22" stroke-width="1.4"/>
<circle cx="608" cy="306.8" r="4" fill="none" stroke="#dc1a22" stroke-width="1.4"/>
<circle cx="647.9" cy="321.4" r="4" fill="none" stroke="#dc1a22" stroke-width="1.4"/>
<path d="M100.9 96L105.2 100.3L100.9 104.6L96.6 100.3Z" fill="none" stroke="#1414d0" stroke-width="1.5"/>
<path d="M253.1 214.6L257.4 218.9L253.1 223.2L248.8 218.9Z" fill="none" stroke="#1414d0" stroke-width="1.5"/>
<path d="M342.2 267.9L346.5 272.2L342.2 276.5L337.9 272.2Z" fill="none" stroke="#1414d0" stroke-width="1.5"/>
<path d="M405.8 305.1L410.1 309.4L405.8 313.7L401.5 309.4Z" fill="none" stroke="#1414d0" stroke-width="1.5"/>
<path d="M494.9 344.9L499.2 349.2L494.9 353.5L490.6 349.2Z" fill="none" stroke="#1414d0" stroke-width="1.5"/>
<path d="M558.3 369.5L562.6 373.8L558.3 378.1L554 373.8Z" fill="none" stroke="#1414d0" stroke-width="1.5"/>
<path d="M607.6 389.9L611.9 394.2L607.6 398.5L603.3 394.2Z" fill="none" stroke="#1414d0" stroke-width="1.5"/>
<path d="M647.9 402.9L652.2 407.2L647.9 411.5L643.6 407.2Z" fill="none" stroke="#1414d0" stroke-width="1.5"/>
<path d="M304.4 61.2L327.3 61.2" fill="none" stroke="#dc1a22" stroke-width="1.5"/>
<circle cx="304.4" cy="61.2" r="4" fill="none" stroke="#dc1a22" stroke-width="1.4"/>
<circle cx="327.3" cy="61.2" r="4" fill="none" stroke="#dc1a22" stroke-width="1.4"/>
<path d="M304.4 87.7H316.2M322 87.7H327.3" stroke="#000" stroke-width="1.6"/>
<rect x="301" y="84.3" width="6.8" height="6.8" fill="none" stroke="#000" stroke-width="1.5"/>
<rect x="323.9" y="84.3" width="6.8" height="6.8" fill="none" stroke="#000" stroke-width="1.5"/>
<path d="M304.4 115.3L327.3 115.3" fill="none" stroke="#1414d0" stroke-width="1.6"/>
<path d="M304.4 110.9L308.8 115.3L304.4 119.7L300 115.3Z" fill="none" stroke="#1414d0" stroke-width="1.5"/>
<path d="M327.3 110.9L331.7 115.3L327.3 119.7L322.9 115.3Z" fill="none" stroke="#1414d0" stroke-width="1.5"/>
<path d="M304.4 142.3H316.2M322 142.3H327.3" stroke="#000" stroke-width="1.6"/>
<path d="M304.4 136.1L309.7 145.4L299.1 145.4Z" fill="none" stroke="#000" stroke-width="1.5" stroke-linejoin="miter"/>
<path d="M327.3 136.1L332.6 145.4L322 145.4Z" fill="none" stroke="#000" stroke-width="1.5" stroke-linejoin="miter"/>
<text x="342.6" y="66.3" font-size="17.3">Computed thermal conductance - 110 K</text>
<text x="342.6" y="92.8" font-size="17.3">Rytov’s theory - 110 K</text>
<text x="342.6" y="120.4" font-size="17.3">Computed thermal conductance - 55 K</text>
<text x="342.6" y="147.4" font-size="17.3">Rytov’s theory - 55 K</text>
<rect x="74.9" y="614.0" width="601.4" height="454.5" fill="none" stroke="#000" stroke-width="2.2"/>
<path d="M74.9 1068.5h12.2M676.3 1068.5h-12.2M74.9 1041.14h6.3M676.3 1041.14h-6.3M74.9 1025.13h6.3M676.3 1025.13h-6.3M74.9 1013.77h6.3M676.3 1013.77h-6.3M74.9 1004.96h6.3M676.3 1004.96h-6.3M74.9 997.77h6.3M676.3 997.77h-6.3M74.9 991.68h6.3M676.3 991.68h-6.3M74.9 986.41h6.3M676.3 986.41h-6.3M74.9 981.76h6.3M676.3 981.76h-6.3M74.9 977.6h12.2M676.3 977.6h-12.2M74.9 950.24h6.3M676.3 950.24h-6.3M74.9 934.23h6.3M676.3 934.23h-6.3M74.9 922.87h6.3M676.3 922.87h-6.3M74.9 914.06h6.3M676.3 914.06h-6.3M74.9 906.87h6.3M676.3 906.87h-6.3M74.9 900.78h6.3M676.3 900.78h-6.3M74.9 895.51h6.3M676.3 895.51h-6.3M74.9 890.86h6.3M676.3 890.86h-6.3M74.9 886.7h12.2M676.3 886.7h-12.2M74.9 859.34h6.3M676.3 859.34h-6.3M74.9 843.33h6.3M676.3 843.33h-6.3M74.9 831.97h6.3M676.3 831.97h-6.3M74.9 823.16h6.3M676.3 823.16h-6.3M74.9 815.97h6.3M676.3 815.97h-6.3M74.9 809.88h6.3M676.3 809.88h-6.3M74.9 804.61h6.3M676.3 804.61h-6.3M74.9 799.96h6.3M676.3 799.96h-6.3M74.9 795.8h12.2M676.3 795.8h-12.2M74.9 768.44h6.3M676.3 768.44h-6.3M74.9 752.43h6.3M676.3 752.43h-6.3M74.9 741.07h6.3M676.3 741.07h-6.3M74.9 732.26h6.3M676.3 732.26h-6.3M74.9 725.07h6.3M676.3 725.07h-6.3M74.9 718.98h6.3M676.3 718.98h-6.3M74.9 713.71h6.3M676.3 713.71h-6.3M74.9 709.06h6.3M676.3 709.06h-6.3M74.9 704.9h12.2M676.3 704.9h-12.2M74.9 677.54h6.3M676.3 677.54h-6.3M74.9 661.53h6.3M676.3 661.53h-6.3M74.9 650.17h6.3M676.3 650.17h-6.3M74.9 641.36h6.3M676.3 641.36h-6.3M74.9 634.17h6.3M676.3 634.17h-6.3M74.9 628.08h6.3M676.3 628.08h-6.3M74.9 622.81h6.3M676.3 622.81h-6.3M74.9 618.16h6.3M676.3 618.16h-6.3M74.9 614h12.2M676.3 614h-12.2" stroke="#000" stroke-width="2.1" fill="none"/>
<path d="M110.38 614v12.2M110.38 1068.5v-12.2M216.22 614v12.2M216.22 1068.5v-12.2M427.9 614v12.2M427.9 1068.5v-12.2M145.66 614v6.3M145.66 1068.5v-6.3M180.94 614v6.3M180.94 1068.5v-6.3M251.5 614v6.3M251.5 1068.5v-6.3M286.78 614v6.3M286.78 1068.5v-6.3M322.06 614v6.3M322.06 1068.5v-6.3M357.34 614v6.3M357.34 1068.5v-6.3M392.62 614v6.3M392.62 1068.5v-6.3" stroke="#000" stroke-width="2.1" fill="none"/>
<text x="68.2" y="1076.7" font-size="20" text-anchor="end">10<tspan font-size="13.5" dy="-6.1">5</tspan></text>
<text x="68.2" y="986.3" font-size="20" text-anchor="end">10<tspan font-size="13.5" dy="-6.1">6</tspan></text>
<text x="68.2" y="895.8" font-size="20" text-anchor="end">10<tspan font-size="13.5" dy="-6.1">7</tspan></text>
<text x="68.2" y="805.2" font-size="20" text-anchor="end">10<tspan font-size="13.5" dy="-6.1">8</tspan></text>
<text x="68.2" y="714.5" font-size="20" text-anchor="end">10<tspan font-size="13.5" dy="-6.1">9</tspan></text>
<text x="68.2" y="624.1" font-size="20" text-anchor="end">10<tspan font-size="13.5" dy="-6.1">10</tspan></text>
<text x="110.5" y="1095.3" font-size="20" text-anchor="middle">0.1</text>
<text x="217.3" y="1095.3" font-size="20" text-anchor="middle">0.4</text>
<text x="427.7" y="1095.3" font-size="20" text-anchor="middle">1</text>
<text x="380.4" y="1125.9" font-size="20" text-anchor="middle">Gap (nm)</text>
<text transform="translate(22.8 840.6) rotate(-90)" x="0" y="0" font-size="20" text-anchor="middle">Thermal conductance (Wm <tspan font-size="14" dy="-5.8">−2</tspan><tspan dy="5.8">K</tspan><tspan font-size="14" dy="-5.8">−1</tspan><tspan dy="5.8">)</tspan></text>
<text x="6.7" y="598.6" font-size="29" font-weight="bold">b</text>
<defs><clipPath id="cb"><rect x="76" y="615" width="599" height="452.5"/></clipPath></defs>
<path d="M75 727.7L174.3 820.8L273.7 899.6L373.4 932.7L472.7 957.7L672.3 987.2" fill="none" stroke="#dc1a22" stroke-width="2.5"/>
<path d="M75 751.5L174.3 857.3L273.7 952.6L373.4 995.8L472.7 1026.1L672.3 1058.8" fill="none" stroke="#1414d0" stroke-width="2.5"/>
<g clip-path="url(#cb)"><path d="M80.47 614L80.58 615.52L80.68 617.03L80.79 618.55L80.9 620.06L81.02 621.58L81.13 623.09L81.22 624.31M81.69 630.15L81.82 631.65L81.95 633.17L82.08 634.68L82.22 636.2L82.36 637.71L82.5 639.23L82.64 640.74L82.66 640.95M83.24 646.79L83.4 648.29L83.56 649.81L83.72 651.32L83.89 652.84L84.06 654.35L84.23 655.87L84.41 657.38L84.43 657.59M85.15 663.43L85.34 664.93L85.54 666.45L85.74 667.96L85.95 669.48L86.16 670.99L86.37 672.51L86.59 674.03L86.62 674.23M87.51 680.07L87.75 681.57L87.99 683.09L88.24 684.6L88.5 686.12L88.76 687.63L89.02 689.15L89.29 690.67L89.33 690.87M90.42 696.71L90.71 698.21L91.02 699.73L91.32 701.24L91.64 702.76L91.96 704.27L92.29 705.79L92.62 707.31L92.66 707.51M94.01 713.35L94.38 714.85L94.75 716.37L95.13 717.88L95.52 719.4L95.91 720.91L96.32 722.43L96.73 723.95L96.78 724.15M98.45 729.99L98.9 731.49L99.36 733.01L99.83 734.52L100.31 736.04L100.8 737.56L101.3 739.07L101.8 740.59L101.87 740.79M103.93 746.63L104.48 748.13L105.05 749.65L105.63 751.16L106.22 752.68L106.83 754.2L107.44 755.71L108.07 757.23L108.15 757.43M110.69 763.27L111.38 764.77L112.08 766.29L112.79 767.8L113.53 769.32L114.27 770.84L115.03 772.35L115.8 773.87L115.91 774.07M119.04 779.91L119.89 781.41L120.75 782.93L121.64 784.44L122.54 785.96L123.46 787.48L124.4 788.99L125.35 790.51L125.48 790.71M129.35 796.55L130.39 798.05L131.46 799.57L132.56 801.09L133.67 802.6L134.81 804.12L135.96 805.63L137.14 807.15L137.3 807.35M142.08 813.19L143.37 814.69L144.69 816.21L146.04 817.73L147.41 819.24L148.81 820.76L150.24 822.27L151.7 823.79L151.9 823.99M157.7 829.75L159.21 831.18L160.74 832.6L162.26 833.99L163.77 835.34L165.27 836.67L166.8 838L168.32 839.29L168.5 839.45M174.34 844.24L175.88 845.45L177.38 846.62L178.91 847.79L180.41 848.92L181.94 850.06L183.44 851.16L184.97 852.27L185.14 852.39M190.98 856.48L192.51 857.51L194.03 858.52L195.56 859.53L197.06 860.51L198.58 861.49L200.12 862.47L201.63 863.42L201.78 863.51M207.62 867.07L209.13 867.96L210.64 868.85L212.17 869.73L213.71 870.61L215.21 871.47L216.74 872.32L218.27 873.17L218.42 873.26M224.26 876.41L225.79 877.21L227.31 878L228.84 878.79L230.38 879.58L231.94 880.37L233.45 881.13L234.98 881.89L235.06 881.93M240.9 884.76L242.44 885.49L243.99 886.21L245.55 886.94L247.05 887.63L248.57 888.33L250.11 889.02L251.65 889.72L251.7 889.74M257.54 892.31L259.08 892.97L260.63 893.63L262.19 894.3L263.7 894.93L265.21 895.56L266.74 896.19L268.28 896.82L268.34 896.85M274.18 899.2L275.76 899.82L277.29 900.42L278.83 901.02L280.38 901.62L281.95 902.22L283.53 902.82L284.98 903.37M290.82 905.54L292.38 906.11L293.95 906.67L295.53 907.24L297.03 907.78L298.55 908.32L300.07 908.85L301.6 909.39L301.62 909.4M307.46 911.41L308.97 911.92L310.47 912.42L311.98 912.93L313.5 913.43L315.03 913.94L316.57 914.44L318.12 914.95L318.26 914.99M324.1 916.87L325.62 917.35L327.13 917.82L328.65 918.29L330.17 918.77L331.71 919.24L333.25 919.71L334.8 920.19L334.9 920.22M340.74 921.97L342.28 922.43L343.78 922.87L345.29 923.31L346.81 923.76L348.33 924.2L349.87 924.64L351.41 925.08L351.54 925.12M357.38 926.77L358.91 927.2L360.51 927.64L362.11 928.08L363.72 928.52L365.23 928.93L366.74 929.35L368.18 929.74M374.02 931.29L375.62 931.71L377.19 932.12L378.76 932.53L380.34 932.94L381.93 933.36L383.53 933.77L384.82 934.1M390.66 935.57L392.29 935.98L393.82 936.36L395.35 936.73L396.89 937.11L398.44 937.49L399.99 937.87L401.46 938.23M407.3 939.63L408.82 939.99L410.42 940.37L412.03 940.74L413.65 941.12L415.28 941.5L416.92 941.88L418.1 942.15M423.94 943.49L425.5 943.84L427.05 944.19L428.6 944.53L430.16 944.88L431.72 945.23L433.29 945.58L434.74 945.89M440.58 947.17L442.14 947.5L443.76 947.85L445.38 948.2L447.02 948.54L448.66 948.89L450.3 949.24L451.38 949.47M457.22 950.68L458.8 951.01L460.34 951.32L461.88 951.64L463.43 951.95L464.99 952.27L466.55 952.58L468.02 952.88M473.86 954.05L475.42 954.35L477.02 954.67L478.63 954.98L480.25 955.3L481.87 955.62L483.5 955.93L484.66 956.16M490.5 957.27L492.08 957.57L493.59 957.86L495.1 958.14L496.61 958.43L498.13 958.71L499.65 958.99L501.19 959.28L501.3 959.3M507.14 960.38L508.75 960.67L510.31 960.95L511.88 961.24L513.46 961.52L515.04 961.81L516.62 962.09L517.94 962.33M523.78 963.36L525.36 963.64L526.99 963.92L528.61 964.2L530.25 964.49L531.89 964.77L533.54 965.06L534.58 965.24M540.42 966.23L542.05 966.51L543.73 966.79L545.24 967.05L546.74 967.3L548.25 967.55L549.77 967.8L551.22 968.05M557.06 969.01L558.58 969.26L560.13 969.51L561.69 969.76L563.25 970.01L564.81 970.27L566.38 970.52L567.86 970.76M573.7 971.69L575.3 971.94L576.9 972.19L578.51 972.45L580.12 972.7L581.74 972.95L583.37 973.2L584.5 973.38M590.34 974.28L591.98 974.53L593.63 974.78L595.29 975.04L596.96 975.29L598.63 975.54L600.31 975.79L601.14 975.92M606.98 976.79L608.57 977.02L610.28 977.28L611.78 977.5L613.28 977.72L614.79 977.94L616.3 978.16L617.78 978.38M623.62 979.22L625.25 979.46L626.79 979.68L628.34 979.9L629.89 980.12L631.44 980.34L633 980.56L634.42 980.76M640.26 981.58L641.77 981.79L643.36 982.01L644.96 982.23L646.55 982.46L648.15 982.68L649.76 982.9L651.06 983.08M656.9 983.87L658.56 984.1L660.2 984.32L661.84 984.54L663.48 984.76L665.13 984.98L666.79 985.2L667.7 985.33M77.37 614.65L77.42 616.18L77.46 617.69L77.51 619.21L77.55 620.73L77.6 622.24L77.65 623.76L77.7 625.27L77.71 625.45M77.9 631.24L77.96 632.76L78.01 634.27L78.07 635.79L78.13 637.3L78.19 638.82L78.25 640.33L78.31 641.85L78.31 642.04M78.56 647.83L78.63 649.33L78.69 650.85L78.76 652.36L78.83 653.88L78.91 655.4L78.98 656.91L79.06 658.43L79.07 658.63M79.37 664.42L79.45 665.94L79.54 667.46L79.62 668.97L79.71 670.49L79.8 672L79.89 673.52L79.98 675.04L79.99 675.22M80.37 681.01L80.47 682.52L80.57 684.03L80.68 685.55L80.79 687.07L80.9 688.58L81.01 690.1L81.12 691.61L81.14 691.81M81.6 697.6L81.72 699.13L81.85 700.64L81.98 702.16L82.12 703.67L82.25 705.19L82.39 706.71L82.53 708.22L82.55 708.4M83.12 714.19L83.27 715.7L83.43 717.22L83.59 718.74L83.76 720.25L83.92 721.77L84.09 723.28L84.27 724.8L84.29 724.99M84.99 730.78L85.18 732.28L85.38 733.8L85.57 735.31L85.78 736.83L85.98 738.34L86.2 739.86L86.41 741.38L86.44 741.58M87.3 747.37L87.54 748.89L87.78 750.41L88.03 751.92L88.28 753.44L88.53 754.95L88.79 756.47L89.06 757.98L89.09 758.17M90.16 763.96L90.45 765.47L90.74 766.98L91.05 768.5L91.36 770.01L91.67 771.53L91.99 773.05L92.32 774.56L92.36 774.76M93.68 780.55L94.04 782.08L94.41 783.59L94.78 785.11L95.16 786.62L95.55 788.14L95.95 789.65L96.35 791.17L96.4 791.35M98.02 797.14L98.46 798.65L98.92 800.17L99.38 801.69L99.85 803.2L100.33 804.72L100.82 806.23L101.32 807.75L101.38 807.94M103.38 813.73L103.92 815.23L104.48 816.75L105.05 818.26L105.63 819.78L106.22 821.29L106.83 822.81L107.44 824.32L107.53 824.53M109.99 830.32L110.67 831.84L111.36 833.36L112.06 834.87L112.78 836.39L113.51 837.9L114.25 839.42L115.01 840.93L115.11 841.12M118.15 846.91L118.98 848.42L119.83 849.93L120.7 851.45L121.58 852.96L122.48 854.48L123.4 856L124.34 857.51L124.46 857.71M128.22 863.5L129.26 865.03L130.3 866.54L131.37 868.06L132.47 869.57L133.58 871.09L134.71 872.6L135.87 874.12L136 874.3M140.64 880.09L141.91 881.6L143.2 883.12L144.52 884.63L145.87 886.15L147.24 887.67L148.64 889.18L150.06 890.7L150.25 890.89M155.94 896.66L157.45 898.12L158.98 899.57L160.5 900.99L162.02 902.38L163.52 903.74L165.06 905.1L166.58 906.42L166.74 906.56M172.53 911.4L174.04 912.61L175.56 913.81L177.1 915.01L178.62 916.18L180.12 917.32L181.64 918.45L183.14 919.56L183.33 919.7M189.12 923.81L190.65 924.86L192.18 925.9L193.69 926.91L195.22 927.92L196.77 928.93L198.28 929.91L199.82 930.89L199.92 930.96M205.71 934.54L207.22 935.44L208.76 936.36L210.26 937.24L211.78 938.12L213.32 939.01L214.82 939.86L216.34 940.71L216.51 940.81M222.3 943.98L223.82 944.79L225.37 945.61L226.88 946.4L228.41 947.19L229.95 947.97L231.5 948.76L233.01 949.52L233.1 949.57M238.89 952.41L240.44 953.15L241.97 953.88L243.51 954.61L245.07 955.33L246.57 956.03L248.09 956.72L249.62 957.42L249.69 957.45M255.48 960.03L257.03 960.7L258.56 961.36L260.11 962.03L261.67 962.69L263.24 963.35L264.75 963.98L266.28 964.62L266.28 964.62M272.07 966.97L273.6 967.58L275.11 968.18L276.64 968.78L278.18 969.38L279.73 969.98L281.29 970.58L282.86 971.18L282.87 971.19M288.66 973.36L290.22 973.93L291.77 974.5L293.34 975.07L294.91 975.64L296.5 976.2L298.01 976.74L299.46 977.25M305.25 979.26L306.83 979.8L308.41 980.34L310 980.88L311.51 981.38L313.02 981.89L314.55 982.39L316.05 982.88M321.84 984.76L323.43 985.27L325.02 985.77L326.52 986.24L328.04 986.72L329.56 987.19L331.09 987.67L332.63 988.14L332.64 988.14M338.43 989.9L339.94 990.35L341.54 990.82L343.14 991.3L344.64 991.74L346.16 992.18L347.68 992.62L349.21 993.06L349.23 993.07M355.02 994.72L356.54 995.15L358.12 995.59L359.71 996.03L361.31 996.48L362.91 996.92L364.42 997.33L365.82 997.71M371.61 999.27L373.22 999.7L374.78 1000.11L376.34 1000.52L377.91 1000.93L379.49 1001.34L381.08 1001.75L382.41 1002.09M388.2 1003.57L389.76 1003.96L391.28 1004.34L392.8 1004.72L394.33 1005.1L395.86 1005.47L397.4 1005.85L398.95 1006.23L399 1006.24M404.79 1007.64L406.42 1008.03L408.02 1008.41L409.62 1008.79L411.23 1009.17L412.84 1009.55L414.47 1009.93L415.59 1010.19M421.38 1011.52L422.99 1011.88L424.52 1012.23L426.06 1012.58L427.61 1012.93L429.16 1013.27L430.72 1013.62L432.18 1013.94M437.97 1015.21L439.51 1015.55L441.11 1015.89L442.73 1016.24L444.35 1016.59L445.98 1016.94L447.61 1017.28L448.77 1017.53M454.56 1018.74L456.2 1019.08L457.73 1019.4L459.26 1019.71L460.8 1020.03L462.35 1020.35L463.9 1020.66L465.36 1020.96M471.15 1022.12L472.7 1022.43L474.3 1022.75L475.9 1023.06L477.5 1023.38L479.11 1023.69L480.73 1024.01L481.95 1024.25M487.74 1025.36L489.26 1025.65L490.92 1025.97L492.58 1026.28L494.09 1026.57L495.6 1026.85L497.11 1027.13L498.54 1027.4M504.33 1028.47L505.98 1028.78L507.54 1029.06L509.1 1029.35L510.66 1029.63L512.23 1029.91L513.81 1030.2L515.13 1030.44M520.92 1031.47L522.49 1031.74L524.1 1032.03L525.72 1032.31L527.35 1032.6L528.98 1032.88L530.61 1033.17L531.72 1033.36M537.51 1034.35L539.07 1034.62L540.74 1034.9L542.42 1035.19L544.11 1035.47L545.61 1035.72L547.12 1035.98L548.31 1036.18M554.1 1037.14L555.69 1037.4L557.23 1037.65L558.78 1037.9L560.33 1038.15L561.88 1038.41L563.44 1038.66L564.9 1038.9M570.69 1039.82L572.31 1040.08L573.9 1040.33L575.5 1040.59L577.1 1040.84L578.71 1041.09L580.33 1041.34L581.49 1041.53M587.28 1042.42L588.88 1042.67L590.53 1042.92L592.18 1043.18L593.84 1043.43L595.5 1043.68L597.17 1043.93L598.08 1044.07M603.87 1044.94L605.37 1045.16L607.07 1045.42L608.78 1045.67L610.49 1045.92L611.99 1046.14L613.49 1046.36L614.67 1046.54M620.46 1047.38L622.18 1047.63L623.71 1047.85L625.25 1048.07L626.79 1048.29L628.34 1048.51L629.89 1048.73L631.26 1048.93M637.05 1049.75L638.61 1049.96L640.19 1050.19L641.77 1050.41L643.36 1050.63L644.95 1050.85L646.55 1051.07L647.85 1051.25M653.64 1052.04L655.3 1052.27L656.93 1052.49L658.56 1052.71L660.2 1052.93L661.84 1053.15L663.48 1053.37L664.44 1053.5M670.23 1054.27L671.77 1054.48L672.25 1054.54" fill="none" stroke="#000" stroke-width="2.3"/></g>
<circle cx="75" cy="727.7" r="3.9" fill="none" stroke="#dc1a22" stroke-width="1.7"/>
<circle cx="174.3" cy="820.8" r="3.9" fill="none" stroke="#dc1a22" stroke-width="1.7"/>
<circle cx="273.7" cy="899.6" r="3.9" fill="none" stroke="#dc1a22" stroke-width="1.7"/>
<circle cx="373.4" cy="932.7" r="3.9" fill="none" stroke="#dc1a22" stroke-width="1.7"/>
<circle cx="472.7" cy="957.7" r="3.9" fill="none" stroke="#dc1a22" stroke-width="1.7"/>
<circle cx="672.3" cy="987.2" r="3.9" fill="none" stroke="#dc1a22" stroke-width="1.7"/>
<path d="M75 747.2L79.3 751.5L75 755.8L70.7 751.5Z" fill="none" stroke="#1414d0" stroke-width="2.0" stroke-linejoin="round"/>
<path d="M174.3 853L178.6 857.3L174.3 861.6L170 857.3Z" fill="none" stroke="#1414d0" stroke-width="2.0" stroke-linejoin="round"/>
<path d="M273.7 948.3L278 952.6L273.7 956.9L269.4 952.6Z" fill="none" stroke="#1414d0" stroke-width="2.0" stroke-linejoin="round"/>
<path d="M373.4 991.5L377.7 995.8L373.4 1000.1L369.1 995.8Z" fill="none" stroke="#1414d0" stroke-width="2.0" stroke-linejoin="round"/>
<path d="M472.7 1021.8L477 1026.1L472.7 1030.4L468.4 1026.1Z" fill="none" stroke="#1414d0" stroke-width="2.0" stroke-linejoin="round"/>
<path d="M672.3 1054.5L676.6 1058.8L672.3 1063.1L668 1058.8Z" fill="none" stroke="#1414d0" stroke-width="2.0" stroke-linejoin="round"/>
<path d="M243.4 678.1L265.8 678.1" fill="none" stroke="#dc1a22" stroke-width="1.6"/>
<circle cx="243.4" cy="678.1" r="3.7" fill="none" stroke="#dc1a22" stroke-width="1.6"/>
<circle cx="265.8" cy="678.1" r="3.7" fill="none" stroke="#dc1a22" stroke-width="1.6"/>
<path d="M243 707.3H253.4M259.2 707.3H266.5" stroke="#000" stroke-width="2"/>
<path d="M243.4 739.5L265.8 739.5" fill="none" stroke="#1414d0" stroke-width="1.8"/>
<path d="M243.4 735.3L247.6 739.5L243.4 743.7L239.2 739.5Z" fill="none" stroke="#1414d0" stroke-width="2.0"/>
<path d="M265.8 735.3L270 739.5L265.8 743.7L261.6 739.5Z" fill="none" stroke="#1414d0" stroke-width="2.0"/>
<path d="M243 776.7H253.4M259.2 776.7H266.5" stroke="#000" stroke-width="2"/>
<text x="282.9" y="684.3" font-size="17.3">Computed thermal conductance - 110 K</text>
<text x="282.9" y="713.5" font-size="17.3">Rytov’s theory - 110 K</text>
<text x="282.9" y="745.7" font-size="17.3">Computed thermal conductance - 55 K</text>
<text x="282.9" y="782.9" font-size="17.3">Rytov’s theory - 55 K</text></svg></body></html>
